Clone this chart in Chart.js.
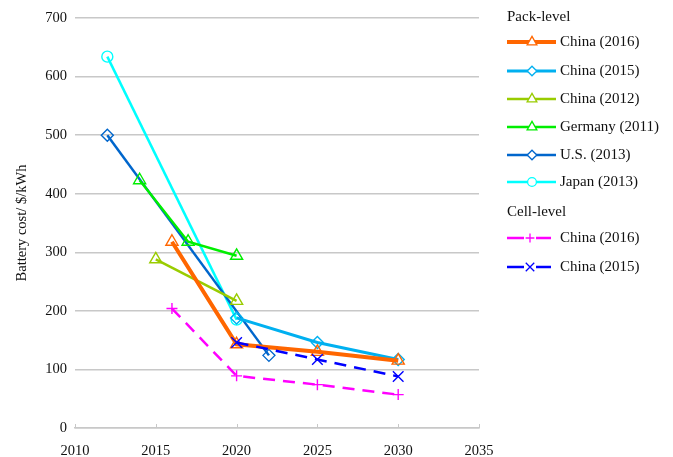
<!DOCTYPE html>
<html><head><meta charset="utf-8">
<script src="https://cdn.jsdelivr.net/npm/chart.js@4/dist/chart.umd.min.js"></script>
<style>html,body{margin:0;padding:0;background:#fff}#wrap{width:673px;height:457px;position:relative}</style>
</head><body><div id="wrap"><canvas id="c" width="673" height="457"></canvas></div>
<script>
// ---- Data ----
const xTicks = [2010, 2015, 2020, 2025, 2030, 2035];
const yTicks = [0, 100, 200, 300, 400, 500, 600, 700];
const packChina2016Years = [2016, 2020, 2025, 2030];
const packChina2016 = [318, 143, 130, 115];
const packChina2015Years = [2020, 2025, 2030];
const packChina2015 = [188, 146, 117];
const packChina2012Years = [2015, 2020];
const packChina2012 = [288, 217];
const germany2011Years = [2014, 2017, 2020];
const germany2011 = [423, 318, 294];
const us2013Years = [2012, 2022];
const us2013 = [500, 124];
const japan2013Years = [2012, 2020];
const japan2013 = [634, 185];
const cellChina2016Years = [2016, 2020, 2025, 2030];
const cellChina2016 = [204, 89, 74, 57];
const cellChina2015Years = [2020, 2025, 2030];
const cellChina2015 = [146, 117, 88];

const FONT = "'Liberation Serif','Times New Roman',serif";
const TEXT = '#111';
const pts = (xs, ys) => xs.map((x, i) => ({x: x, y: ys[i]}));

function ds(label, xs, ys, color, width, style, radius, dash, group, order) {
  return {
    label, data: pts(xs, ys), borderColor: color, pointBorderColor: color,
    backgroundColor: 'rgba(0,0,0,0)', pointBackgroundColor: 'rgba(0,0,0,0)',
    borderWidth: width, pointStyle: style, pointRadius: radius, pointBorderWidth: 1.4,
    borderDash: dash || [], tension: 0, fill: false, group: group, order: order
  };
}

const datasets = [
  ds('China (2016)', packChina2016Years, packChina2016, '#FF6600', 4, 'triangle', 7, null, 'Pack-level', 1),
  ds('China (2015)', packChina2015Years, packChina2015, '#00B0F0', 3, 'rectRot', 6, null, 'Pack-level', 2),
  ds('China (2012)', packChina2012Years, packChina2012, '#99CC00', 2.5, 'triangle', 7, null, 'Pack-level', 3),
  ds('Germany (2011)', germany2011Years, germany2011, '#00EE00', 2.5, 'triangle', 7, null, 'Pack-level', 4),
  ds('U.S. (2013)', us2013Years, us2013, '#0066CC', 2.5, 'rectRot', 6, null, 'Pack-level', 5),
  ds('Japan (2013)', japan2013Years, japan2013, '#00FFFF', 2.5, 'circle', 5.5, null, 'Pack-level', 6),
  ds('China (2016)', cellChina2016Years, cellChina2016, '#FF00FF', 2.5, 'cross', 5.5, [12, 8], 'Cell-level', 7),
  ds('China (2015)', cellChina2015Years, cellChina2015, '#0000FF', 2.5, 'crossRot', 7.5, [12, 8], 'Cell-level', 0),
];

const legendLayout = {
  headerY: {'Pack-level': 17, 'Cell-level': 212},
  itemY: [42, 71, 99, 127, 155, 182, 238, 267],
  x0: 507, x1: 556, textX: 560
};

const legendPlugin = {
  id: 'customLegend',
  afterDraw(chart) {
    const ctx = chart.ctx;
    ctx.save();
    ctx.font = '15px ' + FONT;
    ctx.fillStyle = TEXT;
    ctx.textBaseline = 'middle';
    ctx.textAlign = 'left';
    Object.keys(legendLayout.headerY).forEach(h => ctx.fillText(h, legendLayout.x0, legendLayout.headerY[h]));
    chart.data.datasets.forEach((d, i) => {
      const y = legendLayout.itemY[i];
      const cell = d.group === 'Cell-level';
      ctx.strokeStyle = d.borderColor;
      ctx.lineWidth = d.borderWidth;
      ctx.setLineDash([]);
      if (cell) {
        ctx.beginPath(); ctx.moveTo(507, y); ctx.lineTo(524, y); ctx.stroke();
        ctx.beginPath(); ctx.moveTo(536, y); ctx.lineTo(551, y); ctx.stroke();
      } else {
        ctx.beginPath(); ctx.moveTo(legendLayout.x0, y); ctx.lineTo(legendLayout.x1, y); ctx.stroke();
      }
      const mx = cell ? 530 : 532;
      ctx.lineWidth = 1.3;
      ctx.fillStyle = '#ffffff';
      Chart.helpers.drawPoint(ctx, {pointStyle: d.pointStyle, radius: d.pointRadius * 0.8, borderWidth: 1.3, rotation: 0}, mx, y);
      ctx.fillStyle = TEXT;
      ctx.fillText(d.label, legendLayout.textX, y);
    });
    // small upward tick marks on x axis
    const xs = chart.scales.x, ya = chart.scales.y;
    ctx.strokeStyle = '#c8c8c8'; ctx.lineWidth = 1;
    xTicks.forEach(t => {
      const px = Math.round(xs.getPixelForValue(t)) + 0.5;
      ctx.beginPath(); ctx.moveTo(px, ya.bottom); ctx.lineTo(px, ya.bottom - 4); ctx.stroke();
    });
    ctx.restore();
  }
};

new Chart(document.getElementById('c'), {
  type: 'line',
  data: {datasets},
  options: {
    responsive: false, animation: false,
    layout: {padding: {top: 18, right: 194, bottom: 0, left: 0}},
    plugins: {legend: {display: false}, tooltip: {enabled: false}},
    scales: {
      x: {
        type: 'linear', min: 2010, max: 2035,
        afterBuildTicks: s => { s.ticks = xTicks.map(v => ({value: v})); },
        afterFit: s => { s.height = 29; },
        grid: {display: false, drawTicks: false},
        border: {display: true, color: '#c8c8c8', width: 1.5},
        ticks: {padding: 14, color: TEXT, font: {family: FONT, size: 14.5}, callback: v => String(v), maxRotation: 0}
      },
      y: {
        min: 0, max: 700,
        afterBuildTicks: s => { s.ticks = yTicks.map(v => ({value: v})); },
        afterFit: s => { s.width = 75; },
        grid: {color: '#c8c8c8', lineWidth: 1.5, drawTicks: false},
        border: {display: false},
        ticks: {padding: 8, color: TEXT, font: {family: FONT, size: 14.5}},
        title: {display: true, text: 'Battery cost/ $/kWh', color: TEXT, font: {family: FONT, size: 14.5}, padding: {top: 13, bottom: 0}}
      }
    }
  },
  plugins: [legendPlugin]
});
</script></body></html>
